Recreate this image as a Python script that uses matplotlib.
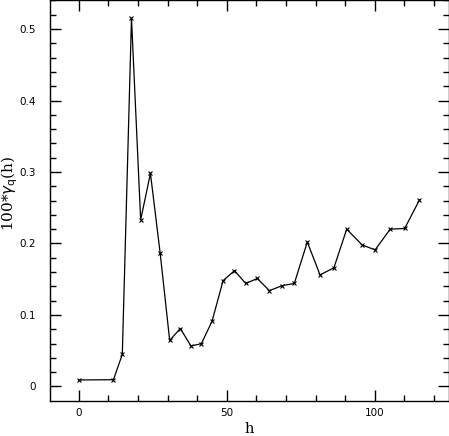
import matplotlib
matplotlib.use("Agg")
import matplotlib.pyplot as plt
from matplotlib.ticker import MultipleLocator, FixedLocator, FixedFormatter

h = [0, 11.7, 14.7, 17.8, 20.9, 24.2, 27.5, 30.7, 34.3, 37.9, 41.4, 45.0,
     48.75, 52.6, 56.4, 60.3, 64.4, 68.7, 72.8, 77.2, 81.5, 86.2, 90.5,
     95.7, 100.1, 105.2, 110.1, 115.1]
gamma = [0.009, 0.0094, 0.0448, 0.515, 0.233, 0.298, 0.186, 0.0644, 0.081,
         0.0565, 0.0598, 0.091, 0.148, 0.162, 0.144, 0.151, 0.134, 0.141,
         0.144, 0.202, 0.156, 0.166, 0.220, 0.198, 0.191, 0.220, 0.221, 0.261]

xticks = [0, 50, 100]
xticklabels = ["0", "50", "100"]
yticks = [0, 0.1, 0.2, 0.3, 0.4, 0.5]
yticklabels = ["0", "0.1", "0.2", "0.3", "0.4", "0.5"]

fig = plt.figure(figsize=(4.49, 4.36), dpi=100)
W, H = 449, 436
ax_l, ax_r, ax_t, ax_b = 49.5, 448.5, 0.0, 400.5
ax = fig.add_axes([ax_l / W, 1 - ax_b / H, (ax_r - ax_l) / W, (ax_b - ax_t) / H])
ax.plot(h, gamma, color="black", lw=0.9, marker="x", ms=3.5, mew=0.8)

ax.set_xlim(-9.9, 124.9)
ax.set_ylim(-0.0197, 0.5406)

ax.xaxis.set_major_locator(FixedLocator(xticks))
ax.xaxis.set_major_formatter(FixedFormatter(xticklabels))
ax.xaxis.set_minor_locator(MultipleLocator(10))
ax.yaxis.set_major_locator(FixedLocator(yticks))
ax.yaxis.set_major_formatter(FixedFormatter(yticklabels))
ax.yaxis.set_minor_locator(MultipleLocator(0.02))

ax.tick_params(which="both", direction="in", top=True, right=True,
               width=1.0, labelsize=7.5, colors="black")
ax.tick_params(which="major", length=8)
ax.tick_params(axis="x", which="major", pad=5.5)
ax.tick_params(axis="y", which="major", pad=9.5)
ax.tick_params(which="minor", length=4.5)
for lab in ax.get_xticklabels() + ax.get_yticklabels():
    lab.set_family("DejaVu Sans")
for s in ax.spines.values():
    s.set_linewidth(1.0)

ax.set_xlabel("h", family="DejaVu Serif", fontsize=10.5)
ax.xaxis.set_label_coords((249 - ax_l) / (ax_r - ax_l), (ax_b - 432.5) / (ax_b - ax_t))
ax.xaxis.label.set_va("baseline")
ax.set_ylabel(r"100*$\gamma_{\rm q}$(h)", family="DejaVu Serif", fontsize=11)
ax.yaxis.set_label_coords((9.5 - ax_l) / (ax_r - ax_l), (ax_b - 193) / (ax_b - ax_t))
ax.yaxis.label.set_va("center")

fig.savefig("out.png", dpi=100)
